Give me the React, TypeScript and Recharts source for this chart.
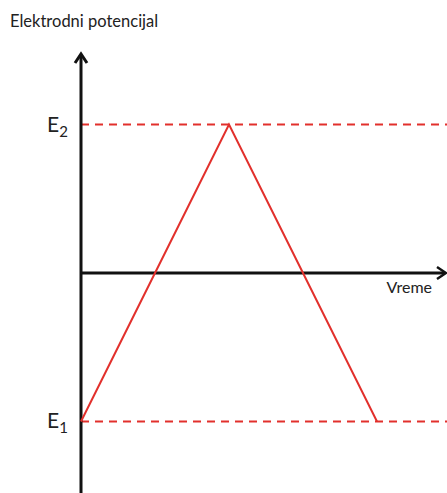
import { LineChart, Line, XAxis, YAxis, ReferenceLine } from 'recharts'

// sweep: potential goes from E1 up to E2 and back to E1
const times = [0, 1, 2]
const potentials = [-1, 1, -1]
const levels = [
  { value: 1, sub: '2' },
  { value: -1, sub: '1' },
]
const yTitle = 'Elektrodni potencijal'
const xTitle = 'Vreme'

const data = times.map((t, i) => ({ t, e: potentials[i] }))

const RED = '#e2302c'
const FONT = 'Lato, "Open Sans", sans-serif'

const VerticalAxis = (props: any) => {
  const { x1, y1, y2 } = props
  const top = Math.min(y1, y2)
  const bottom = Math.max(y1, y2)
  return (
    <g>
      <line x1={x1} y1={top + 2} x2={x1} y2={bottom} stroke="#111" strokeWidth={3} />
      <polyline
        points={`${x1 - 6},${top + 10} ${x1},${top + 1} ${x1 + 6},${top + 10}`}
        fill="none"
        stroke="#111"
        strokeWidth={3}
      />
    </g>
  )
}

const HorizontalAxis = (props: any) => {
  const { x1, x2, y1 } = props
  const right = Math.max(x1, x2) - 1
  return (
    <g>
      <line x1={Math.min(x1, x2)} y1={y1} x2={right - 1} y2={y1} stroke="#111" strokeWidth={3} />
      <polyline
        points={`${right - 9},${y1 - 6} ${right},${y1} ${right - 9},${y1 + 6}`}
        fill="none"
        stroke="#111"
        strokeWidth={2.5}
      />
      <text x={right - 14} y={y1 + 20} textAnchor="end" fontFamily={FONT} fontSize={16} fill="#222">
        {xTitle}
      </text>
    </g>
  )
}

const levelShape = (sub: string) => (props: any) => {
  const { x1, x2, y1 } = props
  return (
    <g>
      <line
        x1={Math.min(x1, x2)}
        y1={y1}
        x2={Math.max(x1, x2)}
        y2={y1}
        stroke={RED}
        strokeWidth={2}
        strokeDasharray="8 6"
      />
      <text x={47} y={y1 + 7} fontFamily={FONT} fontSize={21} fill="#222">
        E
        <tspan fontSize={15} dy={5}>
          {sub}
        </tspan>
      </text>
    </g>
  )
}

export default function App() {
  return (
    <div style={{ position: 'absolute', left: 0, top: 0, width: 447, height: 493, background: '#fff' }}>
      <div
        style={{
          position: 'absolute',
          left: 10,
          top: 11,
          fontFamily: FONT,
          fontSize: 16.5,
          color: '#222',
          whiteSpace: 'nowrap',
        }}
      >
        {yTitle}
      </div>
      <LineChart width={447} height={493} data={data} margin={{ top: 53, right: 0, bottom: 0, left: 81 }}>
        <XAxis type="number" dataKey="t" domain={[0, 2.473]} hide />
        <YAxis type="number" domain={[-1.482, 1.482]} hide />
        {levels.map((lv) => (
          <ReferenceLine key={lv.sub} y={lv.value} shape={levelShape(lv.sub)} ifOverflow="visible" />
        ))}
        <ReferenceLine y={0} shape={HorizontalAxis} ifOverflow="visible" />
        <ReferenceLine x={0} shape={VerticalAxis} ifOverflow="visible" />
        <Line
          type="linear"
          dataKey="e"
          stroke={RED}
          strokeWidth={2}
          dot={false}
          activeDot={false}
          isAnimationActive={false}
        />
      </LineChart>
    </div>
  )
}
